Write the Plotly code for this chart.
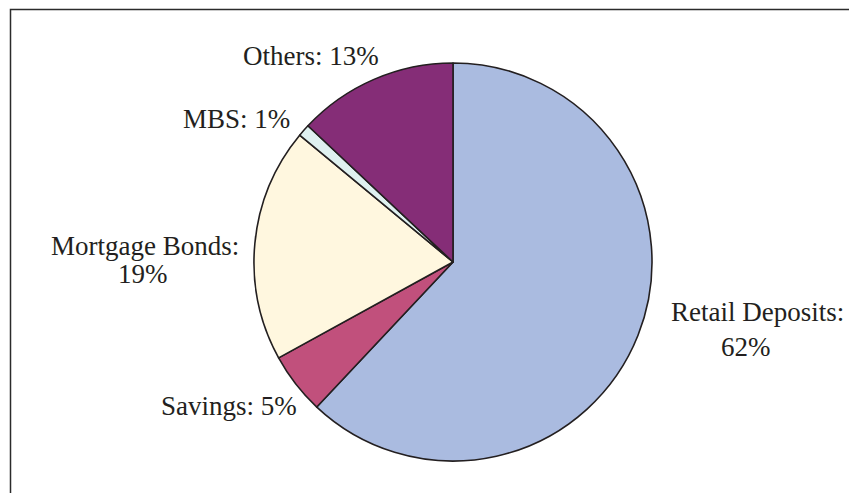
import plotly.graph_objects as go

# Data
labels = ["Retail Deposits", "Savings", "Mortgage Bonds", "MBS", "Others"]
values = [62, 5, 19, 1, 13]
colors = ["#AABBE0", "#C1507C", "#FFF7DF", "#DFF1F0", "#852D77"]

# page body has an 8px margin, so the figure is offset by 8px
OFF = 8
W, H = 857 - 2 * OFF, 501 - 2 * OFF


def fx(px):
    return (px - OFF) / W


def fy(py):
    return 1 - (py - OFF) / H


fig = go.Figure(go.Pie(
    labels=labels,
    values=values,
    sort=False,
    direction="clockwise",
    rotation=0,
    marker=dict(colors=colors, line=dict(color="#231F20", width=1.6)),
    textinfo="none",
    hoverinfo="label+percent",
    showlegend=False,
    domain=dict(x=[fx(254), fx(652)], y=[fy(461), fy(63)]),
))

label_text = {lab: (lab, v) for lab, v in zip(labels, values)}
placements = [
    ("Retail Deposits", True, [(757, 311.5), (746, 346.5)]),
    ("Savings", False, [(229, 406)]),
    ("Mortgage Bonds", True, [(145, 246), (143, 274)]),
    ("MBS", False, [(236.5, 119.5)]),
    ("Others", False, [(311, 56.5)]),
]

font = dict(family="Liberation Serif, Times New Roman, serif", size=27, color="#231F20")
annotations = []
for lab, two, pos in placements:
    name, v = label_text[lab]
    texts = [f"{name}:", f"{v}%"] if two else [f"{name}: {v}%"]
    for t, (px, py) in zip(texts, pos):
        annotations.append(dict(
            x=fx(px), y=fy(py), xref="paper", yref="paper",
            text=t, showarrow=False, xanchor="center", yanchor="middle",
            font=font,
        ))

fig.update_layout(
    width=W, height=H,
    margin=dict(l=0, r=0, t=0, b=0),
    paper_bgcolor="white",
    plot_bgcolor="white",
    annotations=annotations,
    shapes=[dict(
        type="rect", xref="paper", yref="paper",
        x0=fx(10.5), x1=1.02, y0=-0.02, y1=fy(9.5),
        line=dict(color="#2B2B2B", width=1.5),
    )],
)

fig.write_html("out.html")
